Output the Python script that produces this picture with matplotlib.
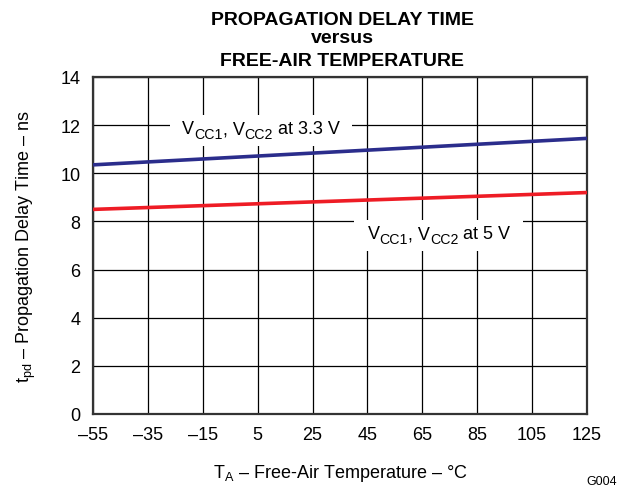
"""
Propagation delay time versus free-air temperature
"""

import matplotlib
matplotlib.use("Agg")
import matplotlib.pyplot as plt
from matplotlib.patches import Rectangle
from matplotlib.transforms import IdentityTransform

plt.rcParams['font.family'] = ['Liberation Sans', 'DejaVu Sans']
plt.rcParams['mathtext.fontset'] = 'custom'
plt.rcParams['mathtext.rm'] = 'Liberation Sans'
plt.rcParams['mathtext.it'] = 'Liberation Sans'

# data
temps = [-55, 125]
tpd_3v3 = [10.35, 11.45]
tpd_5v = [8.5, 9.2]
x_ticks = [-55, -35, -15, 5, 25, 45, 65, 85, 105, 125]
y_ticks = [0, 2, 4, 6, 8, 10, 12, 14]
label_3v3 = [('V', False), ('CC1', True), (', V', False), ('CC2', True), (' at 3.3 V', False)]
label_5v = [('V', False), ('CC1', True), (', V', False), ('CC2', True), (' at 5 V', False)]


def rich_label(ax, x, y, parts, size=13, sub_scale=0.78):
    """ Writes a label made of normal and subscript pieces on one baseline """
    first = ax.text(x, y, parts[0][0], fontsize=size, ha='left', va='baseline', zorder=5)
    pieces = [first]
    prev = first
    for s, sub in parts[1:]:
        fs = size * sub_scale if sub else size
        off = -2.5 if sub else 0
        t = ax.annotate(s, xy=(1, 0), xycoords=(prev, first),
                        xytext=(0, off), textcoords='offset points',
                        fontsize=fs, ha='left', va='bottom', zorder=5)
        pieces.append(t)
        prev = t
    return pieces


def white_box(fig, ax, pieces, padx=12, pady=5):
    """ White box behind a label, hiding the grid """
    r = fig.canvas.get_renderer()
    boxes = [p.get_window_extent(r) for p in pieces]
    x0 = min(b.x0 for b in boxes) - padx
    x1 = max(b.x1 for b in boxes) + padx
    y0 = min(b.y0 for b in boxes) - pady
    y1 = max(b.y1 for b in boxes) + pady
    ax.add_patch(Rectangle((x0, y0), x1 - x0, y1 - y0, transform=IdentityTransform(),
                           facecolor='white', edgecolor='none', zorder=4))


fig = plt.figure(figsize=(6.27, 4.89), dpi=100)
ax = fig.add_axes([93 / 627, 74 / 489, 494 / 627, 337 / 489])

ax.plot(temps, tpd_3v3, color='#2b2d8c', lw=2.6, solid_capstyle='butt', zorder=3)
ax.plot(temps, tpd_5v, color='#ee1c25', lw=2.6, solid_capstyle='butt', zorder=3)

ax.set_xlim(-55, 125)
ax.set_ylim(0, 14)
ax.set_xticks(x_ticks)
ax.set_yticks(y_ticks)
ax.set_xticklabels([str(t).replace('-', '\u2013') for t in x_ticks])
ax.grid(True, color='black', lw=0.9)
ax.tick_params(length=0, labelsize=13, pad=9)
for s in ax.spines.values():
    s.set_linewidth(1.6)
    s.set_color('#333333')

p1 = rich_label(ax, -22.5, 11.67, label_3v3)
p2 = rich_label(ax, 45.0, 7.31, label_5v)

ax.set_xlabel('T$_{\\mathregular{A}}$ \u2013 Free-Air Temperature \u2013 \u00b0C',
              fontsize=13, labelpad=13)
ax.set_ylabel('t$_{\\mathregular{pd}}$ \u2013 Propagation Delay Time \u2013 ns',
              fontsize=13, labelpad=16)

tfont = dict(ha='center', va='baseline', fontsize=14, fontweight='bold')
fig.text(0.546, 1 - 25 / 489, 'PROPAGATION DELAY TIME', **tfont)
fig.text(0.546, 1 - 43 / 489, 'versus', **tfont)
fig.text(0.546, 1 - 66 / 489, 'FREE-AIR TEMPERATURE', **tfont)
fig.text(0.960, 1 - 488 / 489, 'G004', ha='center', va='bottom', fontsize=9)

fig.canvas.draw()
white_box(fig, ax, p1)
white_box(fig, ax, p2, padx=13)

fig.savefig('out.png', dpi=100)
